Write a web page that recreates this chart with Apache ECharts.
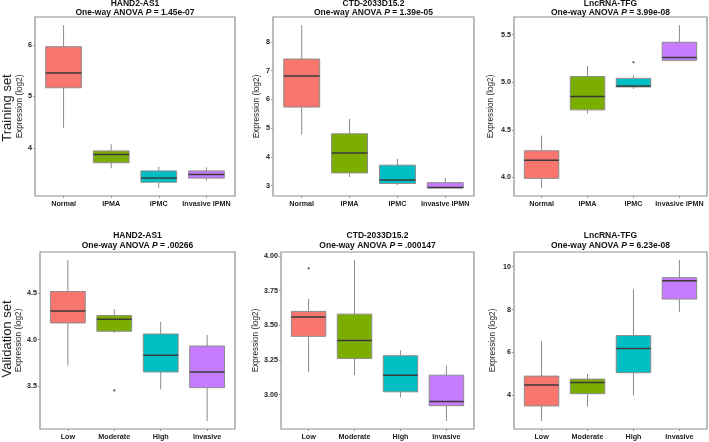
<!DOCTYPE html>
<html>
<head>
<meta charset="utf-8">
<script src="https://cdn.jsdelivr.net/npm/echarts@6/dist/echarts.min.js"></script>
<style>html,body{margin:0;padding:0;background:#fff}#c{width:709px;height:442px}</style>
</head>
<body>
<div id="c"></div>
<script>
// ---------------- DATA ----------------
const CATS_TRAIN = ['Normal', 'IPMA', 'IPMC', 'Invasive IPMN'];
const CATS_VALID = ['Low', 'Moderate', 'High', 'Invasive'];
const COLORS = ['#F8766D', '#7CAE00', '#00BFC4', '#C77CFF'];

// five-number summaries: [lower whisker, Q1, median, Q3, upper whisker]
const train_HAND2 = [[4.39, 5.17, 5.46, 5.97, 6.39], [3.60, 3.71, 3.87, 3.94, 4.07], [3.22, 3.33, 3.41, 3.55, 3.63], [3.36, 3.41, 3.48, 3.55, 3.62]];
const train_CTD   = [[4.77, 5.73, 6.81, 7.40, 8.58], [3.30, 3.44, 4.13, 4.80, 5.32], [3.02, 3.07, 3.19, 3.71, 3.93], [2.92, 2.92, 2.93, 3.10, 3.28]];
const train_TFG   = [[3.89, 3.99, 4.18, 4.28, 4.44], [4.67, 4.71, 4.85, 5.06, 5.17], [4.93, 4.95, 4.96, 5.04, 5.07], [5.23, 5.23, 5.26, 5.42, 5.60]];
const valid_HAND2 = [[3.72, 4.18, 4.31, 4.52, 4.86], [4.07, 4.09, 4.22, 4.26, 4.33], [3.46, 3.65, 3.83, 4.06, 4.19], [3.12, 3.48, 3.65, 3.93, 4.05]];
const valid_CTD   = [[3.16, 3.42, 3.56, 3.60, 3.69], [3.14, 3.26, 3.39, 3.58, 3.97], [2.98, 3.02, 3.14, 3.28, 3.32], [2.81, 2.92, 2.95, 3.14, 3.21]];
const valid_TFG   = [[2.81, 3.51, 4.49, 4.90, 6.53], [3.48, 4.08, 4.60, 4.76, 5.00], [4.00, 5.06, 6.19, 6.79, 8.95], [7.90, 8.49, 9.34, 9.49, 10.31]];

// outliers: [category index (1-based), value]
const out_train_TFG   = [[3, 5.21]];
const out_valid_HAND2 = [[2, 3.45]];
const out_valid_CTD   = [[1, 3.91]];

// y tick labels
const ticks_train_HAND2 = [4, 5, 6];
const ticks_train_CTD   = [3, 4, 5, 6, 7, 8];
const ticks_train_TFG   = [4.0, 4.5, 5.0, 5.5];
const ticks_valid_HAND2 = [3.5, 4.0, 4.5];
const ticks_valid_CTD   = [3.00, 3.25, 3.50, 3.75, 4.00];
const ticks_valid_TFG   = [4, 6, 8, 10];

const genes = ['HAND2-AS1', 'CTD-2033D15.2', 'LncRNA-TFG', 'HAND2-AS1', 'CTD-2033D15.2', 'LncRNA-TFG'];
const pvals = ['1.45e-07', '1.39e-05', '3.99e-08', '.00266', '.000147', '6.23e-08'];

// ---------------- LAYOUT ----------------
const FONT = '"Liberation Sans", Arial, sans-serif';
const panels = [
  {data: train_HAND2, cats: CATS_TRAIN, out: [], ticks: ticks_train_HAND2, dec: 0, grid: {left: 35, top: 17, width: 200, height: 179}, nameGap: 11, titleY: 3.5},
  {data: train_CTD, cats: CATS_TRAIN, out: [], ticks: ticks_train_CTD, dec: 0, grid: {left: 273, top: 17, width: 201, height: 179}, nameGap: 12, titleY: 3.5},
  {data: train_TFG, cats: CATS_TRAIN, out: out_train_TFG, ticks: ticks_train_TFG, dec: 1, grid: {left: 514, top: 17, width: 193, height: 179}, nameGap: 19, titleY: 3.5},
  {data: valid_HAND2, cats: CATS_VALID, out: out_valid_HAND2, ticks: ticks_valid_HAND2, dec: 1, grid: {left: 40, top: 252, width: 195, height: 177}, nameGap: 16, titleY: 236},
  {data: valid_CTD, cats: CATS_VALID, out: out_valid_CTD, ticks: ticks_valid_CTD, dec: 2, grid: {left: 281, top: 252, width: 193, height: 177}, nameGap: 14, titleY: 236},
  {data: valid_TFG, cats: CATS_VALID, out: [], ticks: ticks_valid_TFG, dec: 0, grid: {left: 514, top: 252, width: 193, height: 177}, nameGap: 17, titleY: 236}
];

const grids = [], xAxes = [], yAxes = [], series = [], graphics = [];

panels.forEach((p, i) => {
  // ggplot-style 5% expansion of the data range
  let all = [];
  p.data.forEach(r => all = all.concat(r));
  p.out.forEach(o => all.push(o[1]));
  const lo = Math.min(...all), hi = Math.max(...all);
  const pad = (hi - lo) * 0.05;

  grids.push(Object.assign({show: true, borderColor: '#8f8f8f', borderWidth: 1.2, backgroundColor: '#fff'}, p.grid));
  const cats = p.cats;
  xAxes.push({
    type: 'value', gridIndex: i, min: 0.4, max: 4.6,
    axisLine: {show: false}, splitLine: {show: false},
    axisTick: {show: true, length: 2, lineStyle: {color: '#9a9a9a'}, customValues: [1, 2, 3, 4]},
    axisLabel: {customValues: [1, 2, 3, 4], formatter: v => cats[Math.round(v) - 1] || '', fontSize: 7.2, fontWeight: 'bold', color: '#222', margin: 5, fontFamily: FONT}
  });
  const dec = p.dec;
  yAxes.push({
    type: 'value', gridIndex: i, min: lo - pad, max: hi + pad,
    axisLine: {show: false}, splitLine: {show: false},
    axisTick: {show: true, length: 2, lineStyle: {color: '#9a9a9a'}, customValues: p.ticks},
    axisLabel: {customValues: p.ticks, formatter: v => Number(v).toFixed(dec), fontSize: 7.2, fontWeight: 'bold', color: '#222', margin: 3, fontFamily: FONT},
    name: 'Expression (log2)', nameLocation: 'middle', nameRotate: 90, nameGap: p.nameGap,
    nameTextStyle: {fontSize: 8.2, color: '#222', fontFamily: FONT}
  });
  series.push({
    type: 'custom', xAxisIndex: i, yAxisIndex: i,
    data: p.data.map((r, k) => [k + 1].concat(r)),
    encode: {x: 0, y: [1, 2, 3, 4, 5]},
    renderItem: (params, api) => {
      const x = api.value(0);
      const pl = api.coord([x, api.value(1)]);
      const p1 = api.coord([x, api.value(2)]);
      const pm = api.coord([x, api.value(3)]);
      const p3 = api.coord([x, api.value(4)]);
      const ph = api.coord([x, api.value(5)]);
      const w = api.size([0.75, 0])[0];
      const ln = {stroke: '#8c8c8c', lineWidth: 1};
      return {type: 'group', children: [
        {type: 'line', shape: {x1: pl[0], y1: pl[1], x2: p1[0], y2: p1[1]}, style: ln},
        {type: 'line', shape: {x1: p3[0], y1: p3[1], x2: ph[0], y2: ph[1]}, style: ln},
        {type: 'rect', shape: {x: p3[0] - w / 2, y: p3[1], width: w, height: p1[1] - p3[1]}, style: {fill: COLORS[params.dataIndex], stroke: '#8c8c8c', lineWidth: 1}},
        {type: 'line', shape: {x1: pm[0] - w / 2, y1: pm[1], x2: pm[0] + w / 2, y2: pm[1]}, style: {stroke: '#3a3a3a', lineWidth: 1.5}}
      ]};
    },
    silent: true, animation: false
  });
  if (p.out.length) {
    series.push({type: 'scatter', xAxisIndex: i, yAxisIndex: i, data: p.out, symbolSize: 2.2, itemStyle: {color: '#222'}, silent: true, animation: false});
  }
  const cx = p.grid.left + p.grid.width / 2;
  graphics.push({type: 'text', x: cx, y: p.titleY, style: {text: genes[i], fontSize: 8.5, fontWeight: 'bold', fill: '#111', fontFamily: FONT, align: 'center', verticalAlign: 'middle'}});
  graphics.push({type: 'text', x: cx, y: p.titleY + 9.5, style: {
    text: '{b|One-way ANOVA }{i|P}{b| = ' + pvals[i] + '}',
    align: 'center', verticalAlign: 'middle',
    rich: {
      b: {fontSize: 8.5, fontWeight: 'bold', fill: '#111', fontFamily: FONT},
      i: {fontSize: 8.5, fontWeight: 'bold', fontStyle: 'italic', fill: '#111', fontFamily: FONT}
    }
  }});
});

graphics.push({type: 'text', x: 7, y: 108, rotation: Math.PI / 2, style: {text: 'Training set', fontSize: 13, fill: '#1a1a1a', fontFamily: FONT, align: 'center', verticalAlign: 'middle'}});
graphics.push({type: 'text', x: 7, y: 339, rotation: Math.PI / 2, style: {text: 'Validation set', fontSize: 13, fill: '#1a1a1a', fontFamily: FONT, align: 'center', verticalAlign: 'middle'}});

const chart = echarts.init(document.getElementById('c'), null, {renderer: 'canvas'});
chart.setOption({
  backgroundColor: '#fff',
  animation: false,
  textStyle: {fontFamily: FONT},
  grid: grids, xAxis: xAxes, yAxis: yAxes, series: series, graphic: graphics
});
</script>
</body>
</html>
